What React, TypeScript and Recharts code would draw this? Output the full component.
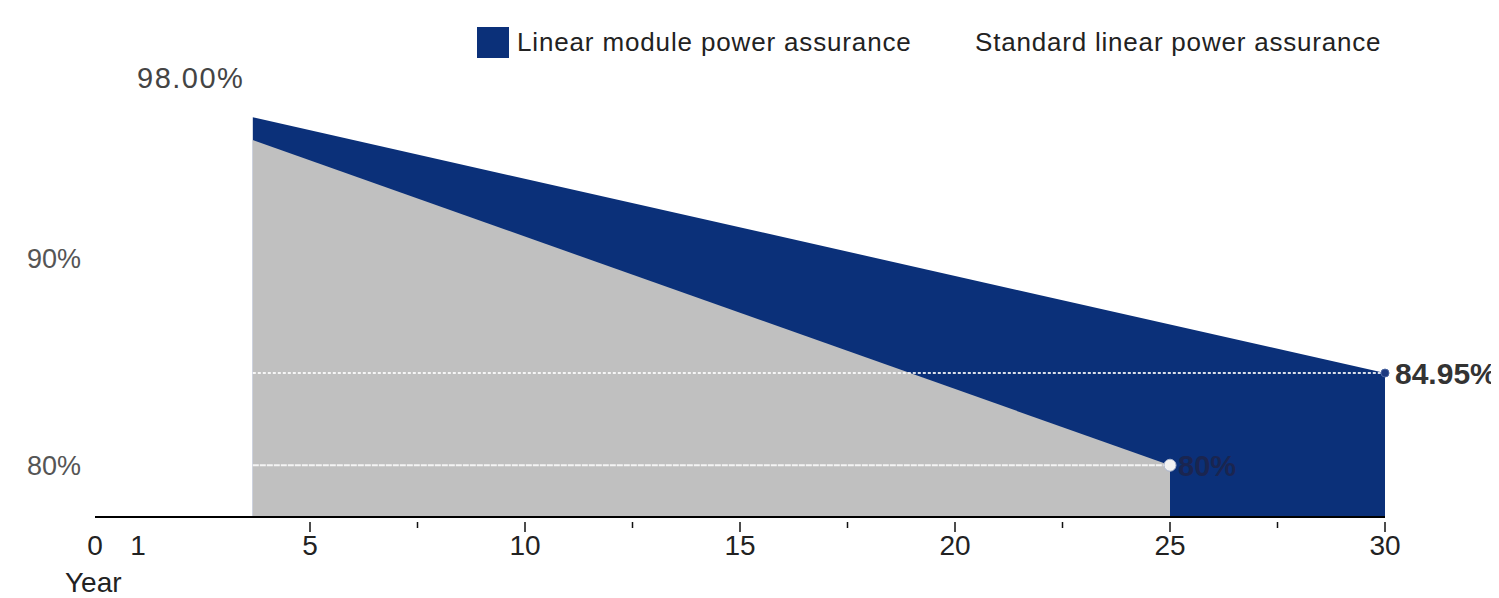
import React from "react";
import {
  ComposedChart,
  Area,
  XAxis,
  YAxis,
  ReferenceLine,
  ReferenceDot,
} from "recharts";

// ---- data ----
const years = [3.67, 25, 30];
const linearValues: (number | null)[] = [96.8, null, 84.45];
const standardValues: (number | null)[] = [95.7, 80, null];
const seriesNames = ["Linear module power assurance", "Standard linear power assurance"];
const xTicks = [0, 1, 5, 7.5, 10, 12.5, 15, 17.5, 20, 22.5, 25, 27.5, 30];
const yTicks = [80, 90];
const startLabel = "98.00%";
const standardEndLabel = "80%";
const linearEndLabel = "84.95%";
const xAxisTitle = "Year";

const data = years.map((y, i) => ({
  year: y,
  linear: linearValues[i],
  standard: standardValues[i],
}));

const BLUE = "#0b3079";
const GRAY = "#c0c0c0";
const FONT = "'Liberation Sans', Arial, sans-serif";

const XTick = (props: any) => {
  const { x, y, payload } = props;
  const v = payload.value;
  const major = Number.isInteger(v);
  const showLine = v >= 5;
  return (
    <g>
      {showLine && (
        <line x1={x} x2={x} y1={y - 3} y2={y - 3 + (major ? 10 : 6)} stroke="#111" strokeWidth={1.5} />
      )}
      {major && (
        <text x={x} y={y + 30} textAnchor="middle" fill="#222" fontSize={28} fontFamily={FONT}>
          {v}
        </text>
      )}
    </g>
  );
};

const YTick = (props: any) => {
  const { y, payload } = props;
  return (
    <text x={27} y={y + 10} textAnchor="start" fill="#555" fontSize={27} fontFamily={FONT}>
      {payload.value}%
    </text>
  );
};

export default function App() {
  const lastStd = standardValues[1] as number;
  const lastLin = linearValues[2] as number;
  return (
    <div style={{ position: "relative", left: -8, top: -8, width: 1499, height: 598, fontFamily: FONT, background: "#fff" }}>
      <ComposedChart
        width={1499}
        height={598}
        data={data}
        margin={{ top: 51, right: 114, bottom: 31, left: 0 }}
      >
        <XAxis
          dataKey="year"
          type="number"
          domain={[0, 30]}
          ticks={xTicks}
          interval={0}
          tick={<XTick />}
          tickLine={false}
          axisLine={{ stroke: "#000", strokeWidth: 2 }}
          height={50}
          allowDataOverflow
        />
        <YAxis
          type="number"
          domain={[77.5, 100]}
          ticks={yTicks}
          width={95}
          axisLine={false}
          tickLine={false}
          tick={<YTick />}
          allowDataOverflow
        />
        <Area
          dataKey="linear"
          type="linear"
          fill={BLUE}
          fillOpacity={1}
          stroke="none"
          connectNulls
          baseValue="dataMin"
          isAnimationActive={false}
          dot={false}
          activeDot={false}
        />
        <Area
          dataKey="standard"
          type="linear"
          fill={GRAY}
          fillOpacity={1}
          stroke="none"
          connectNulls
          baseValue="dataMin"
          isAnimationActive={false}
          dot={false}
          activeDot={false}
        />
        <ReferenceLine
          segment={[{ x: years[0], y: lastLin }, { x: years[2], y: lastLin }]}
          stroke="#ffffff"
          strokeWidth={2}
          strokeDasharray="3 2"
          strokeOpacity={0.85}
        />
        <ReferenceLine
          segment={[{ x: years[0], y: lastStd }, { x: years[1], y: lastStd }]}
          stroke="#f4f4f4"
          strokeWidth={2}
          strokeDasharray="6 1"
        />
        <ReferenceDot
          x={years[1]}
          y={lastStd}
          r={6}
          fill="#f2f2f2"
          stroke="#aab4cc"
          strokeWidth={1}
          label={{ value: standardEndLabel, position: "right", offset: 2, fill: "#1a2550", fontSize: 29, fontWeight: 700, fontFamily: FONT }}
        />
        <ReferenceDot
          x={years[2]}
          y={lastLin}
          r={4}
          fill="#1d3a80"
          stroke="#4a64a0"
          strokeWidth={1}
          label={{ value: linearEndLabel, position: "right", offset: 6, fill: "#333", fontSize: 30, fontWeight: 700, fontFamily: FONT }}
        />
      </ComposedChart>

      {/* start label */}
      <div style={{ position: "absolute", left: 137, top: 64, fontSize: 29, lineHeight: "29px", color: "#444", letterSpacing: 1.5 }}>
        {startLabel}
      </div>

      {/* x axis title */}
      <div style={{ position: "absolute", left: 65, top: 569, fontSize: 28, lineHeight: "28px", color: "#222" }}>
        {xAxisTitle}
      </div>

      {/* legend */}
      <div style={{ position: "absolute", left: 477, top: 27, width: 32, height: 31, background: BLUE }} />
      <div style={{ position: "absolute", left: 517, top: 29, fontSize: 26, lineHeight: "26px", color: "#222", letterSpacing: 0.85, whiteSpace: "nowrap" }}>
        {seriesNames[0]}
      </div>
      <div style={{ position: "absolute", left: 975, top: 29, fontSize: 26, lineHeight: "26px", color: "#222", letterSpacing: 0.8, whiteSpace: "nowrap" }}>
        {seriesNames[1]}
      </div>
    </div>
  );
}
